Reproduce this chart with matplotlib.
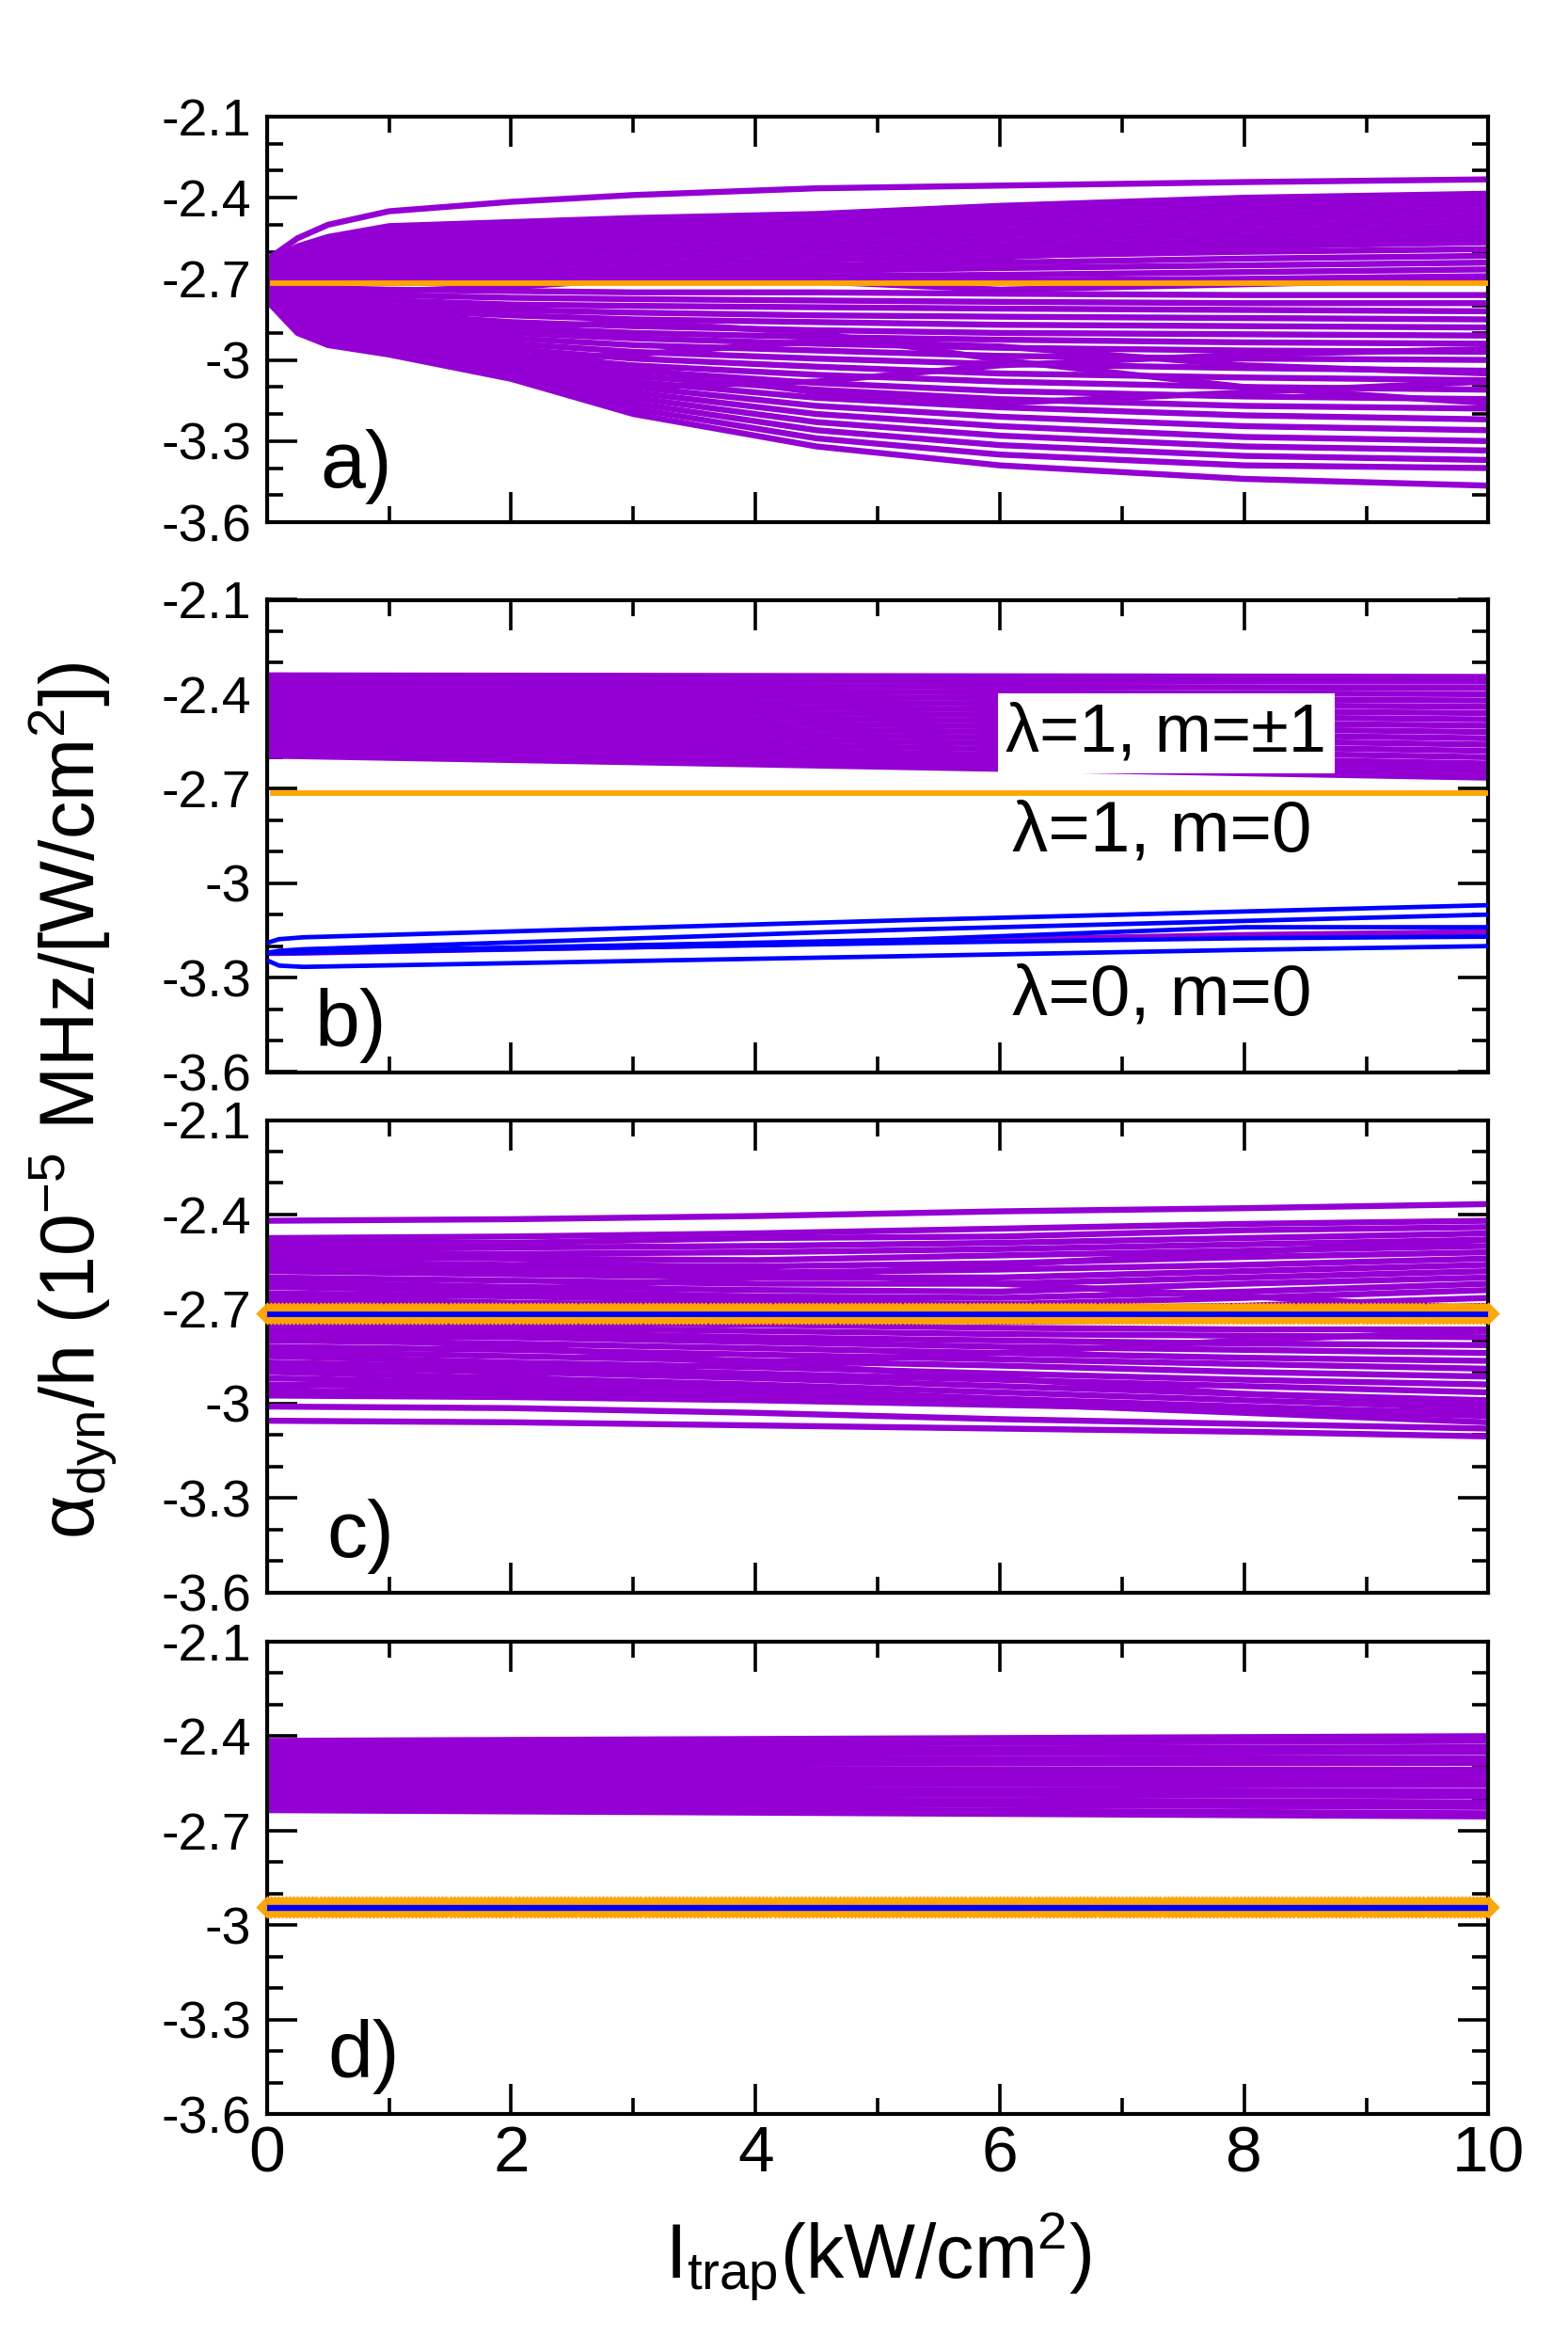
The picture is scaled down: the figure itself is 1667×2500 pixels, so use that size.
import numpy as np
import matplotlib
matplotlib.use('Agg')
import matplotlib.pyplot as plt
from matplotlib.ticker import FixedLocator, FixedFormatter, NullFormatter

plt.rcParams['font.family'] = ['Liberation Sans', 'DejaVu Sans']
plt.rcParams['mathtext.fontset'] = 'custom'
plt.rcParams['mathtext.rm'] = 'Liberation Sans'
plt.rcParams['mathtext.it'] = 'Liberation Sans:italic'
plt.rcParams['mathtext.bf'] = 'Liberation Sans:bold'
plt.rcParams['mathtext.default'] = 'rm'

PURPLE = '#9400D3'
ORANGE = '#FFA500'
BLUE = '#0000FF'

# ---------------- data ----------------
x_ticks = [0, 2, 4, 6, 8, 10]
x_ticklabels = ['0', '2', '4', '6', '8', '10']
y_ticks = [-2.1, -2.4, -2.7, -3.0, -3.3, -3.6]
y_ticklabels = ['-2.1', '-2.4', '-2.7', '-3', '-3.3', '-3.6']

# panel a) : intensity knots and curves (alpha/h values)
a_x = [0, 0.25, 0.5, 1, 2, 3, 4.5, 6, 8, 10]
a_upper = [
    [-2.63, -2.55, -2.50, -2.45, -2.415, -2.39, -2.365, -2.355, -2.342, -2.332],
    [-2.64, -2.58, -2.545, -2.505, -2.49, -2.475, -2.46, -2.43, -2.40, -2.385],
    [-2.65, -2.59, -2.56, -2.525, -2.505, -2.49, -2.475, -2.445, -2.42, -2.405],
    [-2.66, -2.60, -2.575, -2.545, -2.52, -2.505, -2.49, -2.46, -2.44, -2.425],
    [-2.67, -2.61, -2.59, -2.56, -2.535, -2.52, -2.505, -2.48, -2.46, -2.445],
    [-2.68, -2.62, -2.60, -2.575, -2.55, -2.535, -2.52, -2.50, -2.48, -2.465],
    [-2.68, -2.63, -2.61, -2.59, -2.565, -2.55, -2.535, -2.52, -2.50, -2.485],
    [-2.69, -2.64, -2.625, -2.605, -2.58, -2.565, -2.55, -2.535, -2.52, -2.505],
    [-2.69, -2.65, -2.635, -2.62, -2.60, -2.585, -2.57, -2.555, -2.54, -2.525],
    [-2.70, -2.66, -2.65, -2.635, -2.615, -2.60, -2.59, -2.575, -2.56, -2.545],
    [-2.70, -2.67, -2.66, -2.65, -2.635, -2.62, -2.61, -2.595, -2.58, -2.565],
    [-2.70, -2.68, -2.675, -2.665, -2.65, -2.64, -2.63, -2.615, -2.60, -2.59],
    [-2.70, -2.69, -2.685, -2.68, -2.67, -2.66, -2.65, -2.64, -2.625, -2.615],
    [-2.70, -2.695, -2.69, -2.69, -2.685, -2.68, -2.67, -2.66, -2.65, -2.64],
    [-2.71, -2.70, -2.70, -2.70, -2.70, -2.695, -2.69, -2.685, -2.675, -2.665],
    [-2.71, -2.71, -2.71, -2.715, -2.715, -2.71, -2.71, -2.705, -2.70, -2.69],
    [-2.72, -2.73, -2.74, -2.745, -2.73, -2.70, -2.66, -2.62, -2.58, -2.56],
    [-2.70, -2.68, -2.67, -2.66, -2.66, -2.68, -2.71, -2.74, -2.72, -2.70],
]
a_lower = [
    [-2.72, -2.73, -2.735, -2.74, -2.745, -2.75, -2.75, -2.755, -2.76, -2.76],
    [-2.72, -2.74, -2.75, -2.76, -2.77, -2.775, -2.78, -2.785, -2.79, -2.79],
    [-2.73, -2.75, -2.765, -2.78, -2.795, -2.80, -2.805, -2.81, -2.815, -2.82],
    [-2.73, -2.76, -2.78, -2.80, -2.815, -2.825, -2.835, -2.84, -2.845, -2.85],
    [-2.74, -2.77, -2.79, -2.815, -2.835, -2.85, -2.86, -2.87, -2.875, -2.88],
    [-2.74, -2.78, -2.805, -2.83, -2.86, -2.875, -2.89, -2.90, -2.905, -2.91],
    [-2.75, -2.79, -2.815, -2.845, -2.88, -2.90, -2.915, -2.925, -2.935, -2.94],
    [-2.75, -2.80, -2.83, -2.86, -2.90, -2.92, -2.94, -2.955, -2.965, -2.97],
    [-2.76, -2.81, -2.84, -2.875, -2.92, -2.945, -2.965, -2.985, -2.995, -3.00],
    [-2.76, -2.82, -2.855, -2.89, -2.94, -2.97, -2.995, -3.015, -3.03, -3.04],
    [-2.77, -2.83, -2.865, -2.905, -2.96, -2.995, -3.025, -3.05, -3.065, -3.075],
    [-2.77, -2.84, -2.875, -2.92, -2.98, -3.02, -3.055, -3.08, -3.10, -3.11],
    [-2.78, -2.85, -2.89, -2.93, -2.99, -3.04, -3.085, -3.115, -3.135, -3.145],
    [-2.78, -2.86, -2.90, -2.94, -3.00, -3.06, -3.11, -3.145, -3.17, -3.18],
    [-2.78, -2.87, -2.91, -2.95, -3.01, -3.08, -3.14, -3.175, -3.205, -3.22],
    [-2.78, -2.875, -2.92, -2.955, -3.02, -3.10, -3.17, -3.21, -3.245, -3.26],
    [-2.78, -2.88, -2.925, -2.96, -3.03, -3.12, -3.20, -3.245, -3.285, -3.30],
    [-2.78, -2.885, -2.93, -2.965, -3.04, -3.14, -3.23, -3.28, -3.32, -3.335],
    [-2.78, -2.89, -2.935, -2.97, -3.05, -3.16, -3.26, -3.315, -3.355, -3.37],
    [-2.78, -2.895, -2.94, -2.975, -3.06, -3.18, -3.29, -3.35, -3.39, -3.40],
    [-2.78, -2.90, -2.945, -2.98, -3.07, -3.20, -3.32, -3.39, -3.44, -3.465],
    [-2.75, -2.82, -2.87, -2.93, -3.00, -2.98, -2.93, -2.95, -3.02, -3.05],
    [-2.74, -2.80, -2.85, -2.92, -3.05, -3.10, -3.08, -3.02, -2.98, -2.96],
    [-2.72, -2.78, -2.82, -2.88, -2.95, -3.03, -3.12, -3.16, -3.12, -3.08],
    [-2.76, -2.84, -2.88, -2.90, -2.88, -2.86, -2.90, -3.00, -3.10, -3.16],
]
a_m0_level = -2.715

# panel b)
b_x = [0, 10]
b_m1_left = [-2.34, -2.355, -2.37, -2.385, -2.40, -2.415, -2.43, -2.445, -2.46,
             -2.475, -2.49, -2.505, -2.52, -2.535, -2.55, -2.565, -2.58, -2.595]
b_m1_right = [-2.345, -2.36, -2.38, -2.40, -2.42, -2.44, -2.46, -2.48, -2.50,
              -2.52, -2.54, -2.56, -2.58, -2.60, -2.62, -2.635, -2.65, -2.665]
b_m0_level = -2.715
b_l0_x = [0, 0.1, 0.3, 5.2, 8, 10]
b_l0_curves = [
    [-3.19, -3.178, -3.172, -3.118, -3.09, -3.07],
    [-3.222, -3.215, -3.21, -3.148, -3.12, -3.10],
    [-3.222, -3.22, -3.218, -3.18, -3.14, -3.14],
    [-3.222, -3.222, -3.221, -3.19, -3.175, -3.17],
    [-3.245, -3.262, -3.266, -3.232, -3.212, -3.20],
]
b_l0_purple = [-3.222, -3.222, -3.221, -3.185, -3.165, -3.155]

# panel c)
c_x = [0, 2, 4, 6, 8, 10]
c_curves = [
    [-2.42, -2.415, -2.405, -2.39, -2.38, -2.367],
    [-2.475, -2.47, -2.46, -2.445, -2.43, -2.42],
    [-2.49, -2.49, -2.475, -2.47, -2.45, -2.44],
    [-2.505, -2.505, -2.50, -2.49, -2.475, -2.46],
    [-2.52, -2.525, -2.52, -2.51, -2.495, -2.48],
    [-2.535, -2.54, -2.545, -2.53, -2.515, -2.50],
    [-2.55, -2.56, -2.565, -2.555, -2.535, -2.52],
    [-2.565, -2.575, -2.585, -2.575, -2.56, -2.54],
    [-2.58, -2.59, -2.60, -2.60, -2.58, -2.56],
    [-2.60, -2.61, -2.62, -2.62, -2.60, -2.58],
    [-2.615, -2.63, -2.64, -2.645, -2.62, -2.60],
    [-2.63, -2.645, -2.66, -2.665, -2.645, -2.62],
    [-2.65, -2.66, -2.675, -2.685, -2.665, -2.64],
    [-2.665, -2.68, -2.69, -2.70, -2.69, -2.665],
    [-2.685, -2.695, -2.705, -2.72, -2.71, -2.69],
    [-2.70, -2.71, -2.725, -2.74, -2.735, -2.715],
    [-2.50, -2.54, -2.58, -2.62, -2.66, -2.70],
    [-2.68, -2.64, -2.60, -2.56, -2.52, -2.48],
    [-2.74, -2.745, -2.75, -2.76, -2.765, -2.765],
    [-2.755, -2.76, -2.77, -2.78, -2.785, -2.79],
    [-2.77, -2.775, -2.79, -2.80, -2.81, -2.815],
    [-2.785, -2.79, -2.805, -2.82, -2.83, -2.84],
    [-2.80, -2.81, -2.825, -2.84, -2.855, -2.865],
    [-2.82, -2.83, -2.845, -2.86, -2.875, -2.89],
    [-2.835, -2.85, -2.865, -2.88, -2.90, -2.915],
    [-2.85, -2.87, -2.885, -2.905, -2.925, -2.94],
    [-2.87, -2.885, -2.905, -2.925, -2.945, -2.965],
    [-2.885, -2.90, -2.92, -2.945, -2.97, -2.99],
    [-2.90, -2.92, -2.94, -2.965, -2.99, -3.015],
    [-2.92, -2.935, -2.955, -2.985, -3.01, -3.035],
    [-2.94, -2.95, -2.97, -3.00, -3.03, -3.06],
    [-2.96, -2.965, -2.98, -3.00, -3.015, -3.03],
    [-2.975, -2.98, -2.99, -3.005, -3.02, -3.04],
    [-3.01, -3.015, -3.03, -3.05, -3.065, -3.08],
    [-3.055, -3.06, -3.07, -3.08, -3.09, -3.105],
    [-2.95, -2.91, -2.87, -2.84, -2.80, -2.77],
    [-2.78, -2.82, -2.87, -2.92, -2.97, -3.00],
]
c_m0_level = -2.715
c_l0_level = -2.718

# panel d)
d_x = [0, 10]
d_left = [-2.415, -2.43, -2.445, -2.46, -2.475, -2.49, -2.505, -2.52,
          -2.535, -2.55, -2.565, -2.58, -2.595, -2.61, -2.625, -2.635]
d_right = [-2.40, -2.415, -2.435, -2.45, -2.47, -2.485, -2.505, -2.52,
           -2.54, -2.555, -2.575, -2.59, -2.61, -2.625, -2.645, -2.655]
d_m0_level = -2.943
d_l0_level = -2.945

# intensity grid of the m=0 (orange) data points in c) and d)
m0_grid = np.linspace(0, 10, 321)

# ---------------- figure ----------------
fig = plt.figure(figsize=(16.67, 25), dpi=100)
L, W = 0.1702, 0.7791
ax_a = fig.add_axes([L, 0.778, W, 0.1724])
ax_b = fig.add_axes([L, 0.5442, W, 0.2008])
ax_c = fig.add_axes([L, 0.323, W, 0.2008])
ax_d = fig.add_axes([L, 0.1012, W, 0.2008])
axes = [ax_a, ax_b, ax_c, ax_d]

LW_P = 4.6

# a)
for cv in a_upper + a_lower:
    ax_a.plot(a_x, cv, color=PURPLE, lw=LW_P, solid_capstyle='butt', zorder=2)
ax_a.plot([0.05, 10], [a_m0_level, a_m0_level], color=ORANGE, lw=4.2, zorder=4)

# b)
for yl, yr in zip(b_m1_left, b_m1_right):
    ax_b.plot(b_x, [yl, yr], color=PURPLE, lw=LW_P, solid_capstyle='butt', zorder=2)
ax_b.plot(b_l0_x, b_l0_purple, color=PURPLE, lw=LW_P, zorder=2)
ax_b.plot([0.05, 10], [b_m0_level, b_m0_level], color=ORANGE, lw=4.2, zorder=4)
for cv in b_l0_curves:
    ax_b.plot(b_l0_x, cv, color=BLUE, lw=3.4, zorder=5)
ax_b.text(7.36, -2.58, 'λ=1, m=±1', fontsize=52, ha='center', va='baseline',
          bbox=dict(boxstyle='square,pad=0.12', fc='white', ec='none'), zorder=6)
ax_b.text(7.33, -2.899, 'λ=1, m=0', fontsize=55, ha='center', va='baseline', zorder=6)
ax_b.text(7.33, -3.417, 'λ=0, m=0', fontsize=55, ha='center', va='baseline', zorder=6)

# c)
for cv in c_curves:
    ax_c.plot(c_x, cv, color=PURPLE, lw=LW_P, solid_capstyle='butt', zorder=2)
ax_c.plot(m0_grid, np.full(m0_grid.shape, c_m0_level), ls='none', marker='D',
          ms=10, mfc='none', mec=ORANGE, mew=2.2, zorder=3, clip_on=False)
ax_c.plot([0, 10], [c_l0_level, c_l0_level], color=BLUE, lw=4.2, zorder=4)

# d)
for yl, yr in zip(d_left, d_right):
    ax_d.plot(d_x, [yl, yr], color=PURPLE, lw=LW_P, solid_capstyle='butt', zorder=2)
ax_d.plot(m0_grid, np.full(m0_grid.shape, d_m0_level), ls='none', marker='D',
          ms=10, mfc='none', mec=ORANGE, mew=2.2, zorder=3, clip_on=False)
ax_d.plot([0, 10], [d_l0_level, d_l0_level], color=BLUE, lw=4.6, zorder=4)

# panel letters
panel_labels = ['a)', 'b)', 'c)', 'd)']
panel_pos = [(0.44, -3.47), (0.39, -3.517), (0.49, -3.488), (0.50, -3.482)]
for ax, lab, (px, py) in zip(axes, panel_labels, panel_pos):
    ax.text(px, py, lab, fontsize=62, ha='left', va='baseline', zorder=7)

for i, ax in enumerate(axes):
    ax.set_xlim(0, 10)
    ax.set_ylim(-3.6, -2.1)
    ax.xaxis.set_major_locator(FixedLocator(x_ticks))
    ax.xaxis.set_minor_locator(FixedLocator([1, 3, 5, 7, 9]))
    ax.yaxis.set_major_locator(FixedLocator(y_ticks))
    ax.yaxis.set_minor_locator(FixedLocator([-2.2, -2.3, -2.5, -2.6, -2.8, -2.9,
                                             -3.1, -3.2, -3.4, -3.5]))
    ax.yaxis.set_major_formatter(FixedFormatter(y_ticklabels))
    if i == 3:
        ax.xaxis.set_major_formatter(FixedFormatter(x_ticklabels))
    else:
        ax.xaxis.set_major_formatter(NullFormatter())
    ax.tick_params(which='both', direction='in', top=True, right=True)
    ax.tick_params(which='major', length=23, width=2.6)
    ax.tick_params(which='minor', length=12, width=2.6)
    ax.tick_params(axis='y', which='major', labelsize=40, pad=12)
    ax.tick_params(axis='x', which='major', labelsize=50, pad=8)
    for s in ax.spines.values():
        s.set_linewidth(3.0)

fig.text(0.047, 0.532, r'α$_{\mathrm{dyn}}$/h (10$^{\mathrm{-5}}$ MHz/[W/cm$^{\mathrm{2}}$])',
         rotation=90, fontsize=58, ha='center', va='center')
fig.text(0.56, 0.031, r'I$_{\mathrm{trap}}$(kW/cm$^{\mathrm{2}}$)', fontsize=58,
         ha='center', va='baseline')

fig.savefig('out.png', dpi=100)
